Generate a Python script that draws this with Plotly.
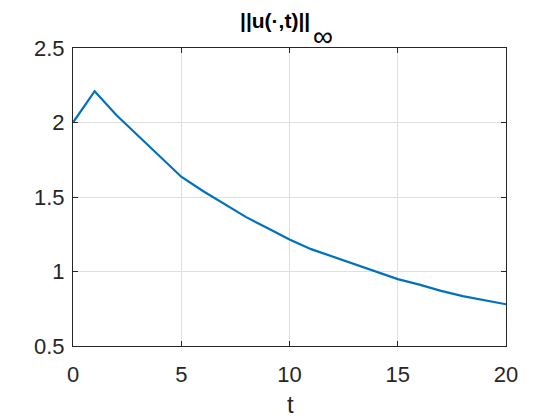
import plotly.graph_objects as go

t = list(range(21))
u_inf = [2.00, 2.21, 2.05, 1.91, 1.77, 1.636, 1.54, 1.45, 1.365, 1.29, 1.215,
         1.15, 1.10, 1.045, 0.995, 0.949, 0.912, 0.87, 0.835, 0.805, 0.78]

x_ticks = [0, 5, 10, 15, 20]
y_ticks = [0.5, 1, 1.5, 2, 2.5]
y_labels = ["0.5", "1", "1.5", "2", "2.5"]

axis_color = "#262626"
grid_color = "#dfdfdf"
font = "Liberation Sans, Arial, Helvetica, sans-serif"

# page body has an 8px margin, so the figure is offset by it
W, H = 544, 412
L, T, R, B = 65, 40, 46, 74
plot_w, plot_h = W - L - R, H - T - B

fig = go.Figure()
fig.add_trace(go.Scatter(
    x=t, y=u_inf, mode="lines",
    line=dict(color="#0072BD", width=2.2),
    showlegend=False,
))

axis_common = dict(
    showline=True, linecolor=axis_color, linewidth=1, mirror="ticks",
    ticks="inside", ticklen=5, tickcolor=axis_color,
    showgrid=True, gridcolor=grid_color, gridwidth=1,
    zeroline=False, automargin=False,
    tickfont=dict(family=font, size=22, color=axis_color),
)

fig.update_xaxes(range=[0, 20], tickvals=x_ticks, ticklabelstandoff=9, **axis_common)
fig.update_yaxes(range=[0.5, 2.5], tickvals=y_ticks, ticktext=y_labels,
                 ticklabelstandoff=3, **axis_common)

# x label
fig.add_annotation(
    text="t", xref="paper", yref="paper",
    x=(290 - 73) / plot_w, y=-(404 - 346) / plot_h,
    xanchor="center", yanchor="middle", showarrow=False,
    font=dict(family=font, size=24, color=axis_color),
)

# title: bold norm bars plus a larger, lowered infinity subscript
fig.add_annotation(
    text="<b>||u(·,t)||</b>", xref="paper", yref="paper",
    x=(275 - 73) / plot_w, y=1 + (48 - 21) / plot_h,
    xanchor="center", yanchor="middle", showarrow=False,
    font=dict(family=font, size=21, color="black"),
)
fig.add_annotation(
    text="∞", xref="paper", yref="paper",
    x=(322.5 - 73) / plot_w, y=1 + (48 - 36) / plot_h,
    xanchor="center", yanchor="middle", showarrow=False,
    font=dict(family=font, size=28, color="black"),
)

fig.update_layout(
    width=W, height=H,
    margin=dict(l=L, r=R, t=T, b=B),
    paper_bgcolor="white", plot_bgcolor="white",
)

fig.write_html("out.html")
